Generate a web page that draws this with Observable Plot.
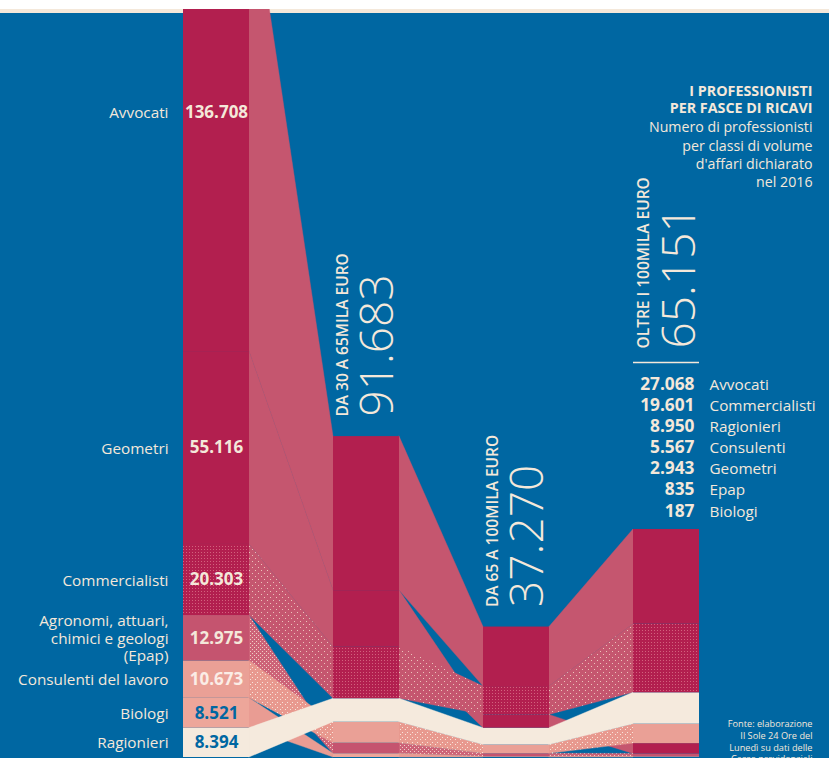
<!DOCTYPE html>
<html><head><meta charset="utf-8">
<script src="https://cdn.jsdelivr.net/npm/d3@7"></script>
<script src="https://cdn.jsdelivr.net/npm/@observablehq/plot@0.6"></script>
<style>
html,body{margin:0;padding:0;background:#fff;overflow:hidden;}
#strip{height:9px;background:#fff;}
#chart svg{display:block;overflow:hidden;}
</style></head>
<body><div id="strip"></div><div id="chart"></div>
<script>
// Categories
const professions = ["Avvocati","Geometri","Commercialisti","Epap","Consulenti","Biologi","Ragionieri"];
const bandLabels = ["FINO A 30MILA EURO","DA 30 A 65MILA EURO","DA 65 A 100MILA EURO","OLTRE I 100MILA EURO"];
const leftLabels = ["Avvocati","Geometri","Commercialisti","Agronomi, attuari,\nchimici e geologi\n(Epap)","Consulenti del lavoro","Biologi","Ragionieri"];
const listNames = ["Avvocati","Geometri","Commercialisti","Epap","Consulenti","Biologi","Ragionieri"];

// Values per band, in professions order (bands 2 and 3)
const fino30   = [136708, 55116, 20303, 12975, 10673, 8521, 8394];
const da30a65  = [44000, 16200, 14700, 3000, 6000, 1083, 6700];
const da65a100 = [17000, 3800, 8100, 850, 2500, 220, 4800];
const oltre100 = [27068, 2943, 19601, 835, 5567, 187, 8950];

// Stacking order, top to bottom, in each band
const order1 = ["Avvocati","Geometri","Commercialisti","Epap","Consulenti","Biologi","Ragionieri"];
const order2 = ["Avvocati","Geometri","Commercialisti","Ragionieri","Consulenti","Epap","Biologi"];
const order3 = ["Avvocati","Commercialisti","Geometri","Ragionieri","Consulenti","Epap","Biologi"];
const order4 = ["Avvocati","Commercialisti","Ragionieri","Consulenti","Geometri","Epap","Biologi"];

const values = [fino30, da30a65, da65a100, oltre100];
const orders = [order1, order2, order3, order4];

const BLUE = "#0067A2", CREAM = "#F4E8DA";
const barFill = {Avvocati:"#B21F4F", Geometri:"#B21F4F", Commercialisti:"url(#gridRed)", Epap:"#C5546F", Consulenti:"#EAA096", Biologi:"#EDA69A", Ragionieri:"#F5EADD"};
const flowFill = {Avvocati:"#C5566F", Geometri:"#C5566F", Commercialisti:"url(#dotsPink)", Epap:"url(#dotsEpap)", Consulenti:"url(#dotsSalmon)", Biologi:"#E99C93", Ragionieri:"#F5EADD"};
const valueColor = {Avvocati:CREAM, Geometri:CREAM, Commercialisti:CREAM, Epap:CREAM, Consulenti:"#FBEDE6", Biologi:BLUE, Ragionieri:BLUE};

const locale = d3.formatLocale({decimal:",", thousands:".", grouping:[3], currency:["","€"]});
const fmt = locale.format(",");

// stacked segments
const segs = [];
values.forEach((vals, c) => {
  let acc = 0;
  for (const p of orders[c].slice().reverse()) {
    const v = vals[professions.indexOf(p)];
    segs.push({c, p, v, y1: acc / 1000, y2: (acc + v) / 1000});
    acc += v;
  }
});
const seg = (c, p) => segs.find(s => s.c === c && s.p === p);
const HW = 0.22;
const flows = [];
for (const p of professions) for (let c = 0; c < 3; c++) {
  const a = seg(c, p), b = seg(c + 1, p);
  flows.push({key: p + c, p, x: c + HW, y1: a.y1, y2: a.y2});
  flows.push({key: p + c, p, x: c + 1 - HW, y1: b.y1, y2: b.y2});
}
const heads = [1, 2, 3].map(c => ({c, total: d3.sum(values[c]) / 1000, label: bandLabels[c], num: fmt(d3.sum(values[c]))}));
const first = segs.filter(s => s.c === 0);
const mid = d => (d.y1 + d.y2) / 2;
const last = heads.filter(h => h.c === 3);

const svg = Plot.plot({
  width: 829, height: 749,
  marginLeft: 216, marginRight: 163, marginTop: 0, marginBottom: 1,
  x: {domain: [0, 3], axis: null},
  y: {domain: [0, 748 / 3.5], axis: null},
  color: {type: "identity"},
  style: {background: `linear-gradient(${CREAM} 0 4px, ${BLUE} 4px)`, overflow: "hidden", fontFamily: "'Open Sans', sans-serif"},
  marks: [
    Plot.areaY(flows, {x: "x", y1: "y1", y2: "y2", z: "key", fill: d => flowFill[d.p], stroke: d => flowFill[d.p], strokeWidth: 0.4, curve: "linear"}),
    Plot.rect(segs, {x1: d => d.c - HW, x2: d => d.c + HW, y1: "y1", y2: "y2", fill: d => barFill[d.p]}),
    Plot.text(first, {x: "c", y: mid, text: d => leftLabels[professions.indexOf(d.p)], textAnchor: "end", dx: -48, fill: CREAM, fontSize: 15.3, fontWeight: 500, lineHeight: 1.14}),
    Plot.text(first, {x: "c", y: mid, text: d => fmt(d.v), fill: d => valueColor[d.p], fontSize: 17, fontWeight: 700}),
    Plot.text(heads.filter(h => h.c < 3), {x: "c", y: "total", text: "label", rotate: -90, textAnchor: "start", lineAnchor: "middle", dx: -23, dy: -20, fontSize: 15.5, fontWeight: 600, fill: CREAM}),
    Plot.text(heads.filter(h => h.c < 3), {x: "c", y: "total", text: "num", rotate: -90, textAnchor: "start", lineAnchor: "middle", dx: 12, dy: -20, fontSize: 46, fontWeight: 300, fill: CREAM}),
    Plot.text(last, {x: "c", y: "total", text: "label", rotate: -90, textAnchor: "start", lineAnchor: "middle", dx: -22, dy: -181, fontSize: 15.5, fontWeight: 600, fill: CREAM}),
    Plot.text(last, {x: "c", y: "total", text: "num", rotate: -90, textAnchor: "start", lineAnchor: "middle", dx: 14, dy: -181, fontSize: 46, fontWeight: 300, fill: CREAM}),
    Plot.ruleY(last, {y: "total", x1: d => d.c - HW, x2: d => d.c + HW, dy: -167, stroke: CREAM, strokeWidth: 1.5}),
    Plot.text(last, {x: "c", y: "total", text: () => order4.map(p => fmt(oltre100[professions.indexOf(p)])).join("\n"), textAnchor: "end", lineAnchor: "middle", dx: 28, dy: -83, fontSize: 17.3, fontWeight: 700, lineHeight: 1.22, fill: CREAM}),
    Plot.text(last, {x: "c", y: "total", text: () => order4.map(p => listNames[professions.indexOf(p)]).join("\n"), textAnchor: "start", lineAnchor: "middle", dx: 43, dy: -83, fontSize: 15.3, fontWeight: 500, lineHeight: 1.38, fill: CREAM}),
    Plot.text(["I PROFESSIONISTI\nPER FASCE DI RICAVI"], {frameAnchor: "top-right", text: d => d, textAnchor: "end", lineAnchor: "middle", dx: 146, dy: 89.5, fontSize: 14.3, fontWeight: 700, lineHeight: 1.19, fill: CREAM}),
    Plot.text(["Numero di professionisti\nper classi di volume\nd'affari dichiarato\nnel 2016"], {frameAnchor: "top-right", text: d => d, textAnchor: "end", lineAnchor: "middle", dx: 146, dy: 144.3, fontSize: 14.2, lineHeight: 1.29, fill: CREAM}),
    Plot.text(["Fonte: elaborazione\nIl Sole 24 Ore del\nLunedì su dati delle\nCasse previdenziali"], {frameAnchor: "top-right", text: d => d, textAnchor: "end", lineAnchor: "middle", dx: 146, dy: 731.5, fontSize: 9.2, lineHeight: 1.27, fill: CREAM})
  ]
});

d3.select(svg).insert("defs", ":first-child").html(`
<pattern id="gridRed" width="3" height="3" patternUnits="userSpaceOnUse">
  <rect width="3" height="3" fill="#B21F4F"/><rect width="1" height="1" fill="#D2627D"/>
</pattern>
<pattern id="dotsPink" width="6" height="6" patternUnits="userSpaceOnUse">
  <rect width="6" height="6" fill="#C5566F"/><rect width="1" height="1" fill="#EBC3BA"/><rect x="3" y="3" width="1" height="1" fill="#EBC3BA"/>
</pattern>
<pattern id="dotsEpap" width="4" height="4" patternUnits="userSpaceOnUse">
  <rect width="4" height="4" fill="#CD6378"/><rect width="1" height="1" fill="#F0CFC6"/><rect x="2" y="2" width="1" height="1" fill="#F0CFC6"/>
</pattern>
<pattern id="dotsSalmon" width="5" height="5" patternUnits="userSpaceOnUse">
  <rect width="5" height="5" fill="#E8998F"/><rect width="1" height="1" fill="#F7E4DA"/><rect x="2" y="3" width="1" height="1" fill="#F7E4DA"/>
</pattern>`);

document.getElementById("chart").append(svg);
</script></body></html>
